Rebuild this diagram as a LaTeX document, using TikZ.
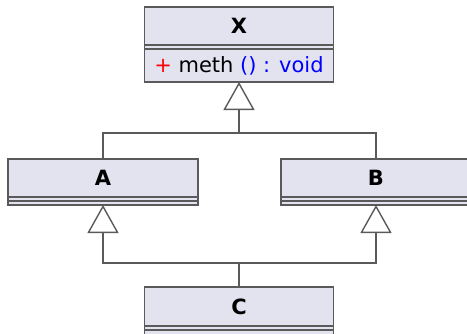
\documentclass[tikz,border=0pt]{standalone}
\usepackage{fontspec}
\setmainfont{DejaVu Sans}
\usetikzlibrary{arrows.meta}
\definecolor{boxfill}{RGB}{227,227,240}
\definecolor{boxdraw}{RGB}{90,90,90}
\tikzset{
  cls/.style={draw=boxdraw, fill=boxfill, line width=1.4pt, rectangle, anchor=north west, inner sep=0pt, outer sep=0pt},
  sep/.style={draw=boxdraw, line width=1.4pt},
  lbl/.style={inner sep=0pt, font=\fontsize{21}{25}\selectfont},
  bl/.style={inner sep=0pt, font=\fontsize{21}{25}\selectfont\bfseries},
  conn/.style={draw=boxdraw, line width=1.4pt},
  inh/.style={conn, -{Triangle[open, length=28pt, width=31pt, line width=1.4pt]}}
}
\begin{document}
\begin{tikzpicture}[x=1pt, y=-1pt]
\clip (0,0) rectangle (467,333);
% class X
\node[cls, minimum width=189pt, minimum height=75pt] (X) at (144.5,7) {};
\draw[sep] (144.5,45) -- (333.5,45);
\draw[sep] (144.5,49) -- (333.5,49);
\node[bl] (Xn) at (239,26) {X};
\node[lbl] (Xm) at (239,65.5) {\textcolor{red}{+} meth \textcolor{blue}{() : void}};
% class A
\node[cls, minimum width=190pt, minimum height=46pt] (A) at (8,159) {};
\draw[sep] (8,197) -- (198,197);
\draw[sep] (8,201) -- (198,201);
\node[bl] (An) at (103,178) {A};
% class B
\node[cls, minimum width=190pt, minimum height=46pt] (B) at (281,159) {};
\draw[sep] (281,197) -- (471,197);
\draw[sep] (281,201) -- (471,201);
\node[bl] (Bn) at (376,178) {B};
% class C
\node[cls, minimum width=189pt, minimum height=60pt] (C) at (144.5,287) {};
\draw[sep] (144.5,326) -- (333.5,326);
\draw[sep] (144.5,330) -- (333.5,330);
\node[bl] (Cn) at (239,306.5) {C};
% connectors
\coordinate (j1) at (239,133);
\coordinate (j2) at (239,263);
\draw[conn] (A.north) |- (j1) -| (B.north);
\draw[inh] (j1) -- (X.south);
\draw[conn] (C.north) -- (j2);
\draw[inh] (j2) -| (A.south);
\draw[inh] (j2) -| (B.south);
\end{tikzpicture}
\end{document}
